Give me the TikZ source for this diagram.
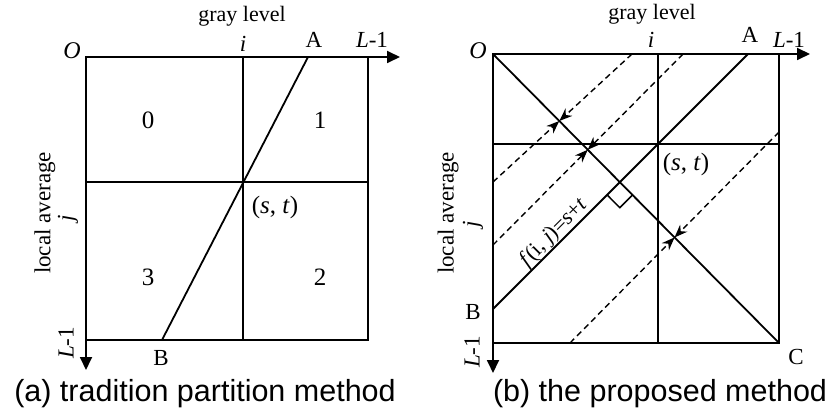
\documentclass[tikz,border=0pt]{standalone}
\usepackage{fontspec}
\setmainfont{Liberation Serif}
\newfontfamily\capfont{Liberation Sans}
\usetikzlibrary{arrows.meta,calc}
\begin{document}
\begin{tikzpicture}[x=1pt,y=-1pt,
  ln/.style={line width=1.8pt},
  ax/.style={line width=1.8pt,-{Triangle[length=13pt,width=12pt]}},
  dsh/.style={line width=1.4pt,dash pattern=on 6pt off 4pt},
  dar/.style={dsh,-{Stealth[length=13pt,width=10pt]}},
  lb/.style={inner sep=0pt,outer sep=0pt,font=\fontsize{23}{25}\selectfont},
  dg/.style={inner sep=0pt,outer sep=0pt,font=\fontsize{25}{27}\selectfont},
  captxt/.style={inner sep=0pt,outer sep=0pt,font=\capfont\fontsize{30.5}{34}\selectfont}]
\fill[white] (0,0) rectangle (832,414);
\useasboundingbox (0,0) rectangle (832,414);
% ---------- panel (a) ----------
\coordinate (Oa) at (86,57);
\coordinate (Xa) at (400,57);
\coordinate (Ya) at (86,370);
\coordinate (Ca) at (368,340);
\coordinate (Ita) at (243,57);
\coordinate (Iba) at (243,340);
\coordinate (Mla) at (86,182);
\coordinate (Mra) at (368,182);
\coordinate (Aa) at (308,57);
\coordinate (Ba) at (162,340);
\draw[ln] (Oa) rectangle (Ca);
\draw[ln] (Ita) -- (Iba);
\draw[ln] (Mla) -- (Mra);
\draw[ln] (Aa) -- (Ba);
\draw[ax] (Oa) -- (Xa);
\draw[ax] (Oa) -- (Ya);
\node[lb,font=\fontsize{22}{24}\selectfont] (gla) at (242,16) {gray level};
\node[lb,font=\fontsize{24}{26}\selectfont] (oa) at (72,51) {\textit{O}};
\node[lb] (ia) at (243,44) {\textit{i}};
\node[lb] (aa) at (314,40) {A};
\node[lb] (la) at (372,40) {\textit{L}-1};
\node[dg] (r0) at (148,120) {0};
\node[dg] (r1) at (320,120) {1};
\node[dg] (r3) at (148,277) {3};
\node[dg] (r2) at (320,277) {2};
\node[dg] (sta) at (275,207) {(\textit{s}, \textit{t})};
\node[lb] (ba) at (161,358) {B};
\node[lb,rotate=90] (laa) at (45,213) {local average};
\node[lb,rotate=90] (ja) at (68,218) {\textit{j}};
\node[lb,rotate=90] (lva) at (66,343) {\textit{L}-1};
\node[captxt] (capa) at (205,394) {(a) tradition partition method};
% ---------- panel (b) ----------
\coordinate (Ob) at (493,54);
\coordinate (Xb) at (810,54);
\coordinate (Yb) at (493,373);
\coordinate (Cb) at (779,343);
\coordinate (Itb) at (658,54);
\coordinate (Ibb) at (658,343);
\coordinate (Mlb) at (493,144);
\coordinate (Mrb) at (779,144);
\coordinate (Ab) at (748,54);
\coordinate (Bb) at (493,309);
\coordinate (T1) at (632,54);
\coordinate (L1) at (493,182);
\coordinate (T2) at (683,54);
\coordinate (L2) at (493,245);
\coordinate (R3) at (779,132);
\coordinate (B3) at (570,343);
\coordinate (X1) at (intersection of T1--L1 and Ob--Cb);
\coordinate (X2) at (intersection of T2--L2 and Ob--Cb);
\coordinate (X3) at (intersection of R3--B3 and Ob--Cb);
\coordinate (P) at (intersection of Ab--Bb and Ob--Cb);
\draw[ln] (Ob) rectangle (Cb);
\draw[ln] (Itb) -- (Ibb);
\draw[ln] (Mlb) -- (Mrb);
\draw[ln] (Ab) -- (Bb);
\draw[ln] (Ob) -- (Cb);
\coordinate (Q1) at ($(P)!18pt!(Bb)$);
\coordinate (Q2) at ($(P)!18pt!(Cb)$);
\coordinate (Q3) at ($(Q1)+(Q2)-(P)$);
\draw[line width=1.5pt] (Q1) -- (Q3) -- (Q2);
\draw[dar] (T1) -- (X1);
\draw[dar] (L1) -- (X1);
\draw[dar] (T2) -- (X2);
\draw[dar] (L2) -- (X2);
\draw[dar] (R3) -- (X3);
\draw[dar] (B3) -- (X3);
\draw[ax] (Ob) -- (Xb);
\draw[ax] (Ob) -- (Yb);
\node[lb,font=\fontsize{22}{24}\selectfont] (glb) at (652,14) {gray level};
\node[lb,font=\fontsize{24}{26}\selectfont] (ob) at (478,51) {\textit{O}};
\node[lb] (ib) at (651,40) {\textit{i}};
\node[lb] (ab) at (750,35) {A};
\node[lb] (lb1) at (789,40) {\textit{L}-1};
\node[dg] (stb) at (686,164) {(\textit{s}, \textit{t})};
\node[lb] (bb) at (473,312) {B};
\node[lb] (cb) at (796,357) {C};
\node[lb,rotate=90] (lab) at (448,213) {local average};
\node[lb,rotate=90] (jb) at (473,224) {\textit{j}};
\node[lb,rotate=90] (lvb) at (472,352) {\textit{L}-1};
\node[inner sep=0pt,outer sep=0pt,font=\fontsize{22}{24}\selectfont,rotate=45] (fl) at (554,233) {\textit{f}(i, \textit{j})=\textit{s}+\textit{t}};
\node[captxt] (capb) at (660,394) {(b) the proposed method};
\end{tikzpicture}
\end{document}
